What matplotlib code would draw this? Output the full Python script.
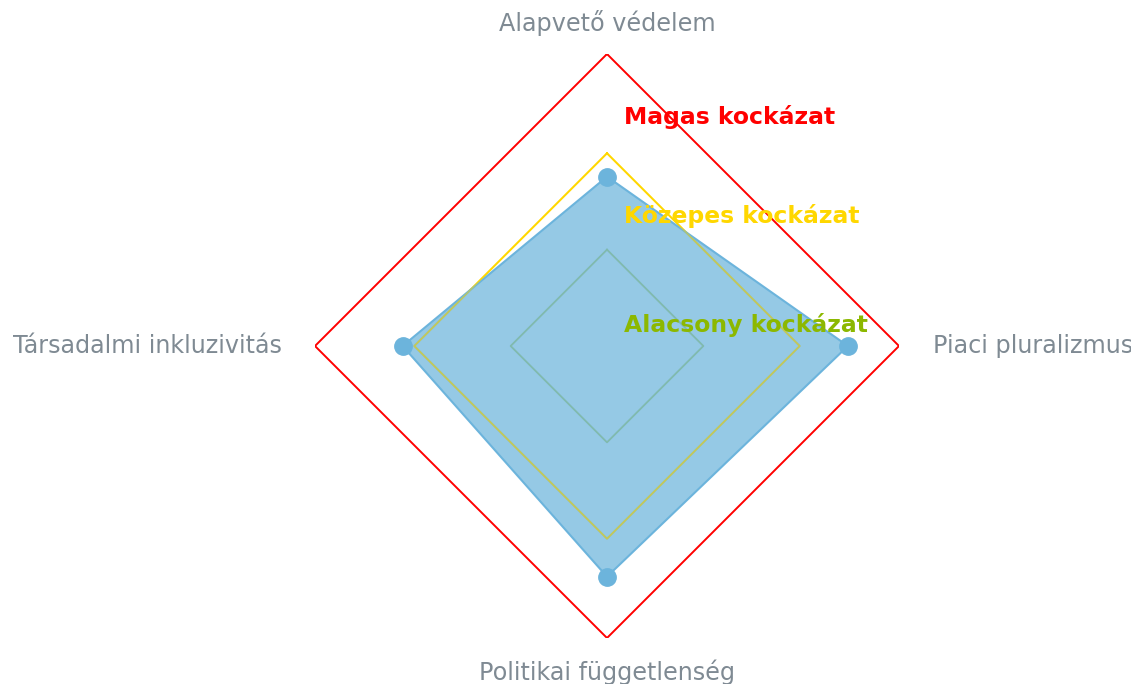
import numpy as np
import matplotlib.pyplot as plt

categories = ['Alapvető védelem', 'Piaci pluralizmus', 'Politikai függetlenség', 'Társadalmi inkluzivitás']
scores = [58, 82.5, 79, 70]
risk_levels = ['Alacsony kockázat', 'Közepes kockázat', 'Magas kockázat']
risk_bounds = [33, 66, 100]
risk_line_colors = ['#8fbf8f', '#ffd700', '#ff0000']
risk_text_colors = ['#8cb800', '#ffd700', '#ff0000']

W, H, DPI = 1131, 684, 100
fig = plt.figure(figsize=(W / DPI, H / DPI), dpi=DPI)
cx, cy, R = 607, 346, 292
ax = fig.add_axes([(cx - R) / W, (H - cy - R) / H, 2 * R / W, 2 * R / H], projection='polar')
ax.set_theta_offset(np.pi / 2)
ax.set_theta_direction(-1)
ax.set_ylim(0, 100)
ax.grid(False)
ax.spines['polar'].set_visible(False)
ax.set_xticks([])
ax.set_yticks([])
ax.patch.set_alpha(0)

angles = np.linspace(0, 2 * np.pi, len(categories), endpoint=False)
closed = np.append(angles, angles[0])

# risk zone outlines
for b, c in zip(risk_bounds, risk_line_colors):
    ax.plot(closed, [b] * len(closed), color=c, lw=1.4 if b > 50 else 1.2, zorder=2)

vals = np.append(scores, scores[0])
ax.fill(closed, vals, color='#6cb4dc', alpha=0.72, zorder=3, lw=0)
ax.plot(closed, vals, color='#6cb4dc', lw=1.5, zorder=4)
ax.plot(angles, scores, 'o', color='#6cb4dc', ms=12.5, zorder=5)

# risk outlines drawn again lightly over the fill
for b, c in zip(risk_bounds[:2], risk_line_colors[:2]):
    ax.plot(closed, [b] * len(closed), color=c, lw=1.2, alpha=0.45, zorder=4)

aligns = [('center', 'center'), ('left', 'center'), ('center', 'center'), ('right', 'center')]
radii = [110.6, 111.6, 111.6, 111.3]
for a, lab, (ha, va), r in zip(angles, categories, aligns, radii):
    ax.text(a, r, lab, ha=ha, va=va, fontsize=17.2, color='#7f8a93', clip_on=False)

label_y = [0.536, 0.7226, 0.892]
for lab, c, y in zip(risk_levels, risk_text_colors, label_y):
    ax.text(0.529, y, lab, transform=ax.transAxes, ha='left', va='center',
            fontsize=16.9, fontweight='bold', color=c, zorder=6)

fig.savefig('out.png', dpi=DPI)
